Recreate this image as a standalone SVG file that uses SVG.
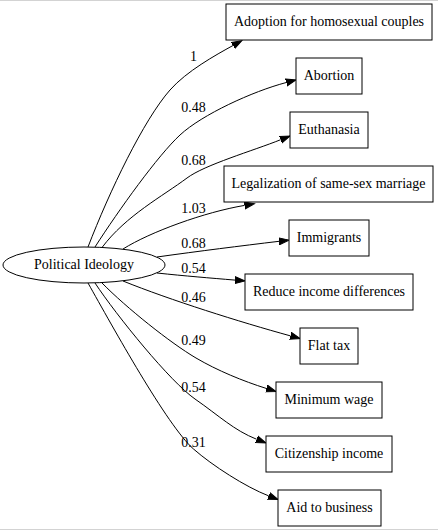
<svg xmlns="http://www.w3.org/2000/svg" width="438" height="530" viewBox="0 0 438 530">
<style>
text{font-size:14px;fill:#000;text-anchor:middle}
.n rect,.n ellipse{fill:#fff;stroke:#000;stroke-width:1}
.e path{fill:none;stroke:#000;stroke-width:1}
.frame{stroke:#d3d3d3;stroke-width:1}
</style>
<defs>
<marker id="ah" markerUnits="userSpaceOnUse" markerWidth="12" markerHeight="10" refX="0" refY="0" viewBox="0 -5 12 10" orient="auto">
<path d="M0,-3.5 L10,0 L0,3.5 Z" fill="#000" stroke="#000" stroke-width="1"/>
</marker>
</defs>
<line class="frame" x1="0" y1="0.5" x2="438" y2="0.5"/>
<line class="frame" x1="0" y1="529.5" x2="438" y2="529.5"/>
<g font-family="'Liberation Serif', 'Times New Roman', serif">
<g id="edges" class="e">
<path marker-end="url(#ah)" d="M88,247 C109.6,191 143.6,120 170,90 C186.5,71.25 215.5,55.1 233,45.5"/>
<path marker-end="url(#ah)" d="M95,247 C119.3,209.2 158,155.4 180,135 C202,114.6 252.5,91.4 286.3,82.5"/>
<path marker-end="url(#ah)" d="M102,247.5 C126,215.5 163,196 187,178 C204.6,164.8 252.9,150.8 280.7,139.7"/>
<path marker-end="url(#ah)" d="M123,249 C150,232 205,212 244.6,205.4"/>
<path marker-end="url(#ah)" d="M157,257 C200,251 240,246 279.1,241.3"/>
<path marker-end="url(#ah)" d="M157,273 C185,276 210,278 235,280.1"/>
<path marker-end="url(#ah)" d="M123,281 C170,300 240,322 290.5,335.9"/>
<path marker-end="url(#ah)" d="M102,283 C126.5,307.9 170.5,343 196,358 C217.25,370.5 242.75,381 266.5,388.5"/>
<path marker-end="url(#ah)" d="M95,283 C117,316.2 170.4,381.9 195,399 C219.6,416.1 233.5,430 256.7,439.3"/>
<path marker-end="url(#ah)" d="M88,283 C112.5,326.5 167.25,425.9 193.5,449 C212.25,465.5 245.5,486.9 268.7,495.9"/>
<text x="193.5" y="61">1</text>
<text x="193.5" y="112">0.48</text>
<text x="193.5" y="165">0.68</text>
<text x="193.5" y="213">1.03</text>
<text x="193.5" y="248">0.68</text>
<text x="193.5" y="272.5">0.54</text>
<text x="193.5" y="302">0.46</text>
<text x="193.5" y="345">0.49</text>
<text x="193.5" y="392">0.54</text>
<text x="193.5" y="447">0.31</text>
</g>
<g id="political_ideology" class="n"><ellipse cx="84" cy="265" rx="81" ry="18"/><text x="84" y="269.2">Political Ideology</text></g>
<g id="adoption" class="n"><rect x="226" y="4" width="206" height="36"/><text x="329" y="26.2">Adoption for homosexual couples</text></g>
<g id="abortion" class="n"><rect x="296" y="58" width="66" height="36"/><text x="329" y="80.2">Abortion</text></g>
<g id="euthanasia" class="n"><rect x="290" y="112" width="78" height="36"/><text x="329" y="134.2">Euthanasia</text></g>
<g id="legalization" class="n"><rect x="224" y="166" width="209" height="36"/><text x="328.5" y="188.2">Legalization of same-sex marriage</text></g>
<g id="immigrants" class="n"><rect x="289" y="220" width="80" height="36"/><text x="329" y="242.2">Immigrants</text></g>
<g id="reduce" class="n"><rect x="245" y="274" width="168" height="36"/><text x="329" y="296.2">Reduce income differences</text></g>
<g id="flat_tax" class="n"><rect x="300" y="328" width="58" height="36"/><text x="329" y="350.2">Flat tax</text></g>
<g id="minimum_wage" class="n"><rect x="276" y="382" width="106" height="36"/><text x="329" y="404.2">Minimum wage</text></g>
<g id="citizenship" class="n"><rect x="266" y="436" width="126" height="36"/><text x="329" y="458.2">Citizenship income</text></g>
<g id="aid" class="n"><rect x="278" y="490" width="103" height="36"/><text x="329.5" y="512.2">Aid to business</text></g>
</g>
</svg>
